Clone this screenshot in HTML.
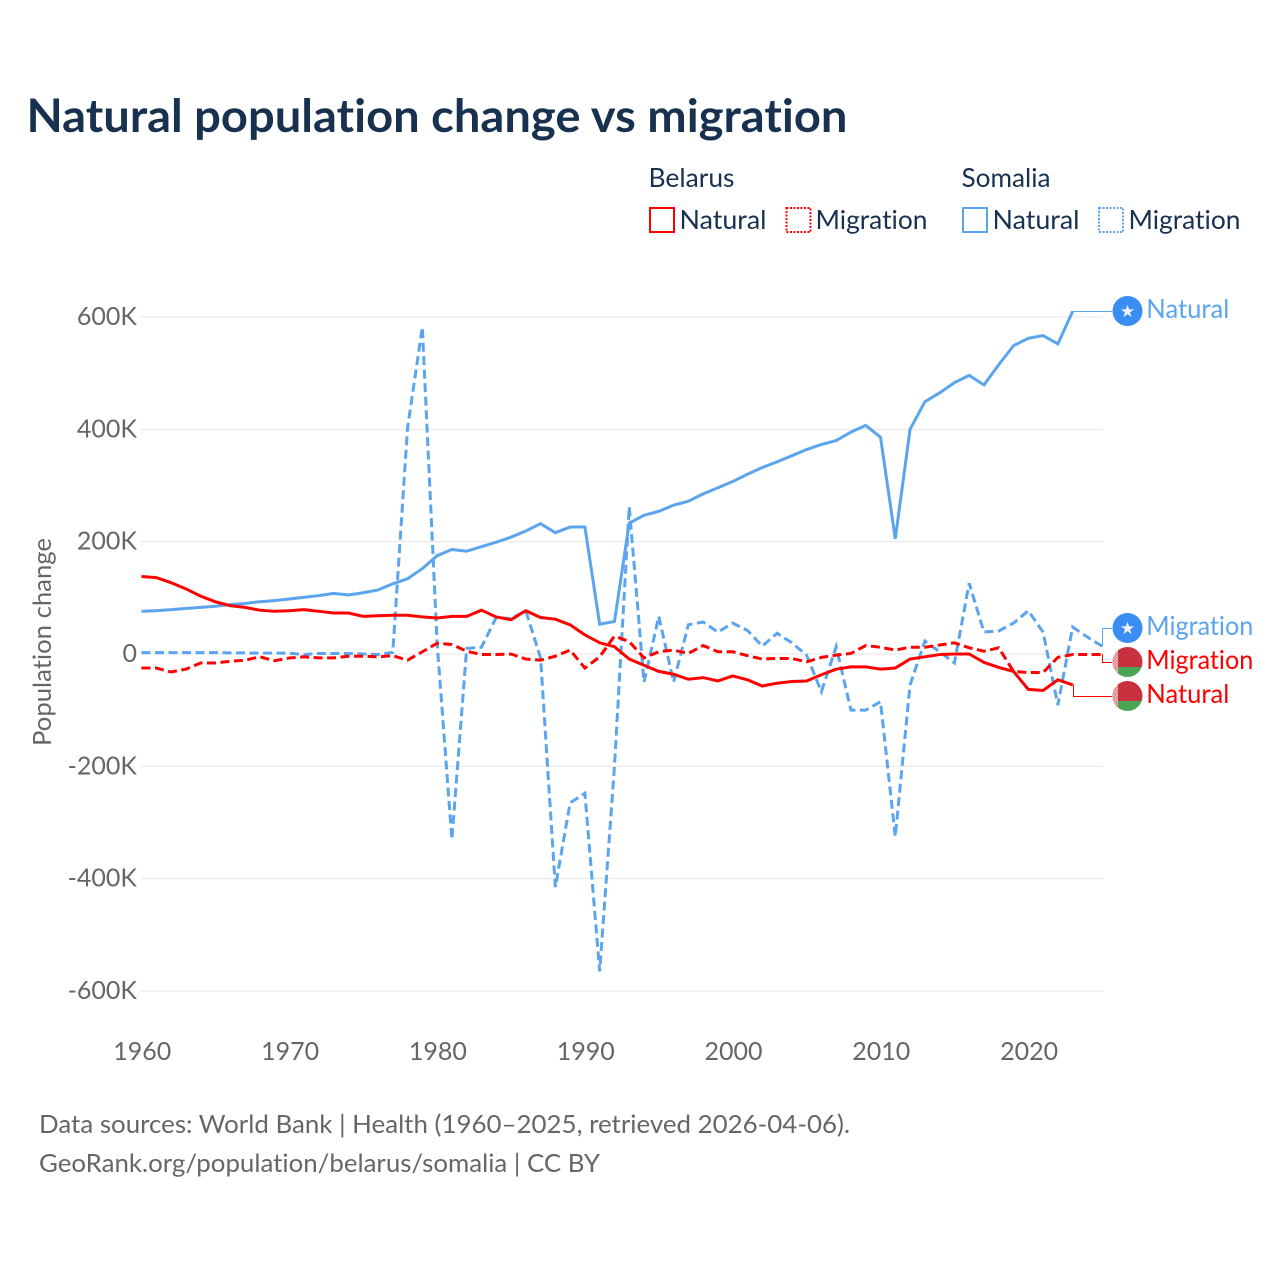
<!DOCTYPE html>
<html lang="en">
<head>
<meta charset="utf-8">
<title>Natural population change vs migration</title>
<style>
html,body{margin:0;padding:0;background:#fff;}
svg{display:block;font-family:"Lato","Carlito","Liberation Sans",sans-serif;font-variant-ligatures:none;font-feature-settings:"liga" 0,"clig" 0;}
</style>
</head>
<body>
<svg id="chart" xmlns="http://www.w3.org/2000/svg" width="1280" height="1280" viewBox="0 0 1280 1280">
  <defs>
    <clipPath id="clip-by1"><circle cx="1127.5" cy="662" r="15"/></clipPath>
    <clipPath id="clip-by2"><circle cx="1127.5" cy="696" r="15"/></clipPath>
    <pattern id="ornament" width="3" height="3" patternUnits="userSpaceOnUse">
      <rect width="3" height="3" fill="#f0cfd0"/>
      <rect x="0" y="0" width="1.500" height="1.500" fill="#d9707a"/>
      <rect x="1.500" y="1.500" width="1.500" height="1.500" fill="#d9707a"/>
    </pattern>
  </defs>
  <rect width="1280" height="1280" fill="#fff"/>
  <text x="26.500" y="132" font-size="46" font-weight="700" fill="#17314f" textLength="821" lengthAdjust="spacingAndGlyphs">Natural population change vs migration</text>

  <g font-size="26" fill="#17314f">
    <text x="648.500" y="187" textLength="86" lengthAdjust="spacingAndGlyphs">Belarus</text>
    <text x="961.500" y="187" textLength="89" lengthAdjust="spacingAndGlyphs">Somalia</text>
    <rect x="650" y="208" width="24" height="24" fill="none" stroke="#ff0000" stroke-width="2"/>
    <text x="679.500" y="229" textLength="87" lengthAdjust="spacingAndGlyphs">Natural</text>
    <rect x="786.500" y="208" width="24" height="24" fill="none" stroke="#ff0000" stroke-width="2" stroke-dasharray="2 1.500"/>
    <text x="815.500" y="229" textLength="112" lengthAdjust="spacingAndGlyphs">Migration</text>
    <rect x="963" y="208" width="24" height="24" fill="none" stroke="#5aa5ee" stroke-width="2"/>
    <text x="992.500" y="229" textLength="87" lengthAdjust="spacingAndGlyphs">Natural</text>
    <rect x="1099" y="208" width="24" height="24" fill="none" stroke="#5aa5ee" stroke-width="2" stroke-dasharray="2 1.500"/>
    <text x="1128.500" y="229" textLength="112" lengthAdjust="spacingAndGlyphs">Migration</text>
  </g>

  <g id="grid"></g>
  <g id="yticks" font-size="25" fill="#666" text-anchor="end"></g>
  <g id="xticks" font-size="25" fill="#666" text-anchor="middle"></g>
  <text transform="translate(51 746) rotate(-90)" font-size="25" fill="#666" textLength="208" lengthAdjust="spacingAndGlyphs">Population change</text>

  <g id="series"></g>
  <g id="leaders"></g>

  <g>
    <circle cx="1127.500" cy="311" r="15" fill="#3a8df2"/>
    <text x="1127.500" y="317" font-size="17" fill="#f2f2f2" text-anchor="middle" style="font-family:'DejaVu Sans',sans-serif">★</text>
    <text x="1146.300" y="318" font-size="26" fill="#5aa5ee" textLength="83" lengthAdjust="spacingAndGlyphs">Natural</text>
  </g>
  <g>
    <circle cx="1127.500" cy="628" r="15" fill="#3a8df2"/>
    <text x="1127.500" y="634" font-size="17" fill="#f2f2f2" text-anchor="middle" style="font-family:'DejaVu Sans',sans-serif">★</text>
    <text x="1146.300" y="635" font-size="26" fill="#5aa5ee" textLength="107" lengthAdjust="spacingAndGlyphs">Migration</text>
  </g>
  <g>
    <g clip-path="url(#clip-by1)">
      <rect x="1112" y="647" width="31" height="20" fill="#c8313e"/>
      <rect x="1112" y="667" width="31" height="10" fill="#4aa657"/>
      <rect x="1112" y="647" width="6" height="30" fill="url(#ornament)"/>
    </g>
    <text x="1146.300" y="669" font-size="26" fill="#ff0000" textLength="107" lengthAdjust="spacingAndGlyphs">Migration</text>
  </g>
  <g>
    <g clip-path="url(#clip-by2)">
      <rect x="1112" y="681" width="31" height="20" fill="#c8313e"/>
      <rect x="1112" y="701" width="31" height="10" fill="#4aa657"/>
      <rect x="1112" y="681" width="6" height="30" fill="url(#ornament)"/>
    </g>
    <text x="1146.300" y="703" font-size="26" fill="#ff0000" textLength="83" lengthAdjust="spacingAndGlyphs">Natural</text>
  </g>

  <g font-size="25.500" fill="#666">
    <text x="39" y="1133" textLength="811" lengthAdjust="spacingAndGlyphs">Data sources: World Bank | Health (1960–2025, retrieved 2026-04-06).</text>
    <text x="39" y="1172" textLength="561" lengthAdjust="spacingAndGlyphs">GeoRank.org/population/belarus/somalia | CC BY</text>
  </g>
</svg>
<script>
var years = [1960,1961,1962,1963,1964,1965,1966,1967,1968,1969,1970,1971,1972,1973,1974,1975,1976,1977,1978,1979,1980,1981,1982,1983,1984,1985,1986,1987,1988,1989,1990,1991,1992,1993,1994,1995,1996,1997,1998,1999,2000,2001,2002,2003,2004,2005,2006,2007,2008,2009,2010,2011,2012,2013,2014,2015,2016,2017,2018,2019,2020,2021,2022,2023,2024,2025];
var somaliaNatural = [76,77,79,81,83,85,88,90,93,95,98,101,104,108,105,109,114,125,134,152,175,186,183,191,199,208,219,232,216,226,226,53,58,233,247,254,265,272,285,296,307,320,332,342,353,364,373,380,395,407,386,205,400,449,465,483,496,479,515,549,562,567,552,610];
var somaliaMigration = [2.500,2.500,2.500,2.500,2.500,2.500,2,2,1.500,1.500,1.500,-1,1,1,1,0,-1,3,402,582,20,-330,10,12,65,63,77,-7,-415,-265,-248,-565,-200,262,-50,67,-50,52,57,39,55,42,14,37,20,-2,-67,13,-100,-100,-85,-325,-55,23,4,-16,126,39,41,55,77,39,-91,48,30,14];
var belarusNatural = [138,136,127,116,103,93,86,83,78,76,77,79,76,73,73,67,68,69,69,66,64,67,67,78,66,61,77,65,62,52,34,20,13,-9,-20,-31,-36,-45,-42,-48,-39,-46,-57,-52,-49,-48,-37,-27,-23,-23,-27,-25,-9,-5,-1,0,0,-15,-24,-31,-63,-65,-46,-55];
var belarusMigration = [-25,-25,-32,-27,-16,-16,-13,-11,-5,-12,-7,-5,-7,-7,-4,-4,-5,-3,-11,4,19,17,5,-1,-1,0,-9,-11,-4,7,-25,-5,32,22,-7,4,7,1,15,4,4,-3,-9,-8,-8,-14,-6,-2,1,15,12,7,12,12,16,20,11,5,11,-31,-33,-33,-6,-1,-1,-1];
var yTickValues = [600,400,200,0,-200,-400,-600];
var yTickLabels = ["600K","400K","200K","0","-200K","-400K","-600K"];
var xTickYears = [1960,1970,1980,1990,2000,2010,2020];

var NS = "http://www.w3.org/2000/svg";
function xScale(year){ return 141.5 + (year - 1960) * 14.78; }
function yScale(v){ return 654 - v * 0.5617; }
function makeEl(tag, parentId){
  var el = document.createElementNS(NS, tag);
  document.getElementById(parentId).appendChild(el);
  return el;
}

yTickValues.forEach(function(v, i){
  var line = makeEl("line", "grid");
  
  
  line.setAttribute("x1", 141);
  line.setAttribute("x2", 1102.5);
  line.setAttribute("y1", yScale(v));
  line.setAttribute("y2", yScale(v));
  line.setAttribute("stroke", "#e6e6e6");
  line.setAttribute("stroke-width", 1);
  var t = makeEl("text", "yticks");
  
  
  t.setAttribute("x", 137);
  t.setAttribute("y", yScale(v) + 8);
  t.textContent = yTickLabels[i];
});

xTickYears.forEach(function(yr){
  var t = makeEl("text", "xticks");
  
  
  t.setAttribute("x", xScale(yr) + 0.8);
  t.setAttribute("y", 1060);
  t.textContent = yr;
});

function linePoints(values){
  return values.map(function(v, i){
    return xScale(years[i]).toFixed(2) + "," + yScale(v).toFixed(2);
  }).join(" ");
}
function lastPoint(values){
  var i = values.length - 1;
  return [xScale(years[i]), yScale(values[i])];
}

var lineSomaliaNatural = makeEl("polyline", "series");


lineSomaliaNatural.setAttribute("points", linePoints(somaliaNatural));
lineSomaliaNatural.setAttribute("fill", "none");
lineSomaliaNatural.setAttribute("stroke", "#5aa5ee");
lineSomaliaNatural.setAttribute("stroke-width", 3);

var lineSomaliaMigration = makeEl("polyline", "series");


lineSomaliaMigration.setAttribute("points", linePoints(somaliaMigration));
lineSomaliaMigration.setAttribute("fill", "none");
lineSomaliaMigration.setAttribute("stroke", "#5aa5ee");
lineSomaliaMigration.setAttribute("stroke-width", 3);
lineSomaliaMigration.setAttribute("stroke-dasharray", "9 4.5");

var lineBelarusNatural = makeEl("polyline", "series");


lineBelarusNatural.setAttribute("points", linePoints(belarusNatural));
lineBelarusNatural.setAttribute("fill", "none");
lineBelarusNatural.setAttribute("stroke", "#ff0000");
lineBelarusNatural.setAttribute("stroke-width", 3);

var lineBelarusMigration = makeEl("polyline", "series");


lineBelarusMigration.setAttribute("points", linePoints(belarusMigration));
lineBelarusMigration.setAttribute("fill", "none");
lineBelarusMigration.setAttribute("stroke", "#ff0000");
lineBelarusMigration.setAttribute("stroke-width", 3);
lineBelarusMigration.setAttribute("stroke-dasharray", "9 4.5");

function leaderPath(values, labelY, endX){
  var p = lastPoint(values);
  var bendX = Math.round(p[0]) + 0.5;
  return "M" + p[0].toFixed(2) + " " + p[1].toFixed(2) + " L" + bendX + " " + p[1].toFixed(2) + " L" + bendX + " " + labelY + " L" + endX + " " + labelY;
}

var leaderSN = makeEl("path", "leaders");


leaderSN.setAttribute("d", leaderPath(somaliaNatural, 311.5, 1112));
leaderSN.setAttribute("fill", "none");
leaderSN.setAttribute("stroke", "#5aa5ee");
leaderSN.setAttribute("stroke-width", 1);

var leaderSM = makeEl("path", "leaders");


leaderSM.setAttribute("d", leaderPath(somaliaMigration, 628.5, 1112));
leaderSM.setAttribute("fill", "none");
leaderSM.setAttribute("stroke", "#5aa5ee");
leaderSM.setAttribute("stroke-width", 1);

var leaderBM = makeEl("path", "leaders");


leaderBM.setAttribute("d", leaderPath(belarusMigration, 662.5, 1112));
leaderBM.setAttribute("fill", "none");
leaderBM.setAttribute("stroke", "#ff0000");
leaderBM.setAttribute("stroke-width", 1);

var leaderBN = makeEl("path", "leaders");


leaderBN.setAttribute("d", leaderPath(belarusNatural, 696.5, 1112));
leaderBN.setAttribute("fill", "none");
leaderBN.setAttribute("stroke", "#ff0000");
leaderBN.setAttribute("stroke-width", 1);
</script>
</body>
</html>
